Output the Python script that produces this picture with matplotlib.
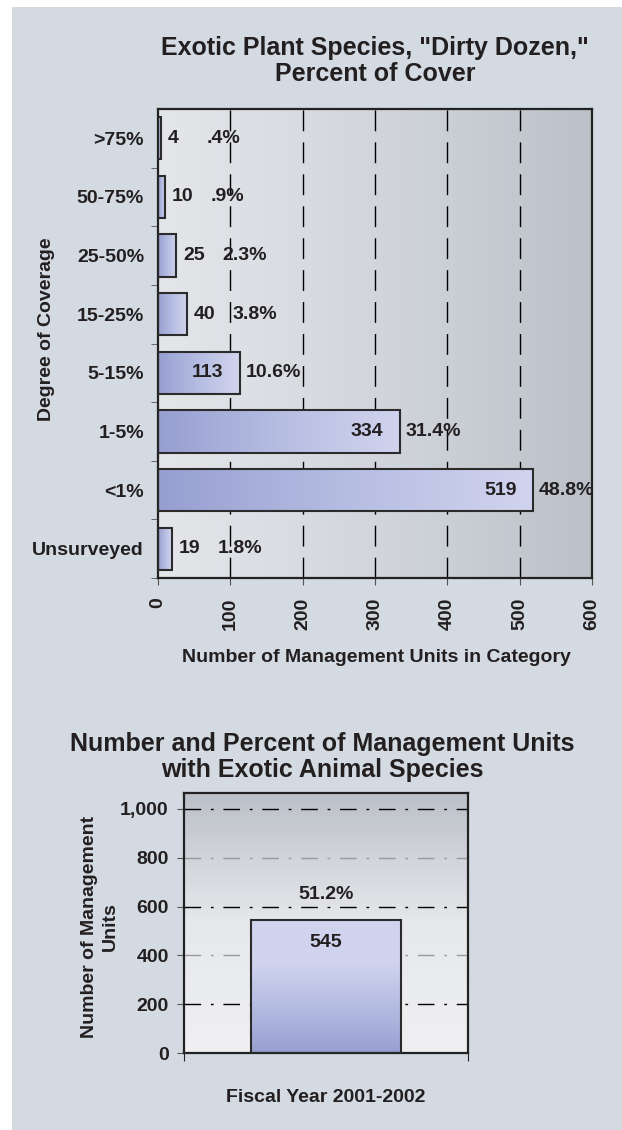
import numpy as np
import matplotlib.pyplot as plt
from matplotlib.colors import LinearSegmentedColormap
from matplotlib.patches import Rectangle

plt.rcParams['font.family'] = ['Liberation Sans', 'DejaVu Sans']
plt.rcParams['font.weight'] = 'bold'

# ---------------- data ----------------
coverage = ['>75%', '50-75%', '25-50%', '15-25%', '5-15%', '1-5%', '<1%', 'Unsurveyed']
units = [4, 10, 25, 40, 113, 334, 519, 19]
percents = ['.4%', '.9%', '2.3%', '3.8%', '10.6%', '31.4%', '48.8%', '1.8%']

animal_year = ['Fiscal Year 2001-2002']
animal_units = [545]
animal_pct = ['51.2%']

# ---------------- colours ----------------
panel_col = '#d3dae1'
txt_col = '#231f20'
bg_h = LinearSegmentedColormap.from_list('bgh', ['#e4e6e9', '#d2d6dc', '#bcc1c9'])
bg_v = LinearSegmentedColormap.from_list('bgv', ['#f0f0f2', '#e6e8eb', '#bcc0c8'])
bar_cm = LinearSegmentedColormap.from_list('bar', ['#979fd1', '#b6bde2', '#d1d4ee'])
bar_cm_v = LinearSegmentedColormap.from_list('barv', ['#979fd1', '#b4bbe1', '#cfd3ee', '#d1d4ee'])
ramp = np.linspace(0, 1, 256)

fig = plt.figure(figsize=(6.22, 11.3), dpi=100, facecolor='white')
fig.add_artist(Rectangle((12 / 622, 0), 1, (1130 - 7) / 1130, transform=fig.transFigure,
                         facecolor=panel_col, edgecolor='none', zorder=-10))

# ================= top chart =================
ax1 = fig.add_axes([158 / 622, 552 / 1130, 434 / 622, 469 / 1130])
ax1.imshow(ramp[None, :], extent=[0, 1, 0, 1], transform=ax1.transAxes,
           cmap=bg_h, aspect='auto', zorder=0)

y = np.arange(len(coverage))
bars = ax1.barh(y, units, height=0.72, facecolor='none', edgecolor='#2b2b2b',
                linewidth=1.5, zorder=3)
for b in bars:
    x0, y0, w, h = b.get_x(), b.get_y(), b.get_width(), b.get_height()
    im = ax1.imshow(ramp[None, :], extent=[x0, x0 + w, y0, y0 + h], cmap=bar_cm,
                    aspect='auto', zorder=2)
    im.set_clip_path(b)

for xv in [100, 200, 300, 400, 500]:
    ax1.axvline(xv, color='black', lw=1.0, linestyle=(0, (15, 8)), zorder=1)

for i, (v, p) in enumerate(zip(units, percents)):
    if v >= 100:
        ax1.annotate(str(v), (v, i), xytext=(-12, 0), textcoords='offset points',
                     ha='right', va='center', fontsize=14, color=txt_col, zorder=5)
        ax1.annotate(p, (v, i), xytext=(4, 0), textcoords='offset points',
                     ha='left', va='center', fontsize=14, color=txt_col, zorder=5)
    else:
        ax1.annotate(str(v), (v, i), xytext=(5, 0), textcoords='offset points',
                     ha='left', va='center', fontsize=14, color=txt_col, zorder=5)
        ax1.annotate(p, (v, i), xytext=(33, 0), textcoords='offset points',
                     ha='left', va='center', fontsize=14, color=txt_col, zorder=5)

ax1.set_xlim(0, 600)
ax1.set_ylim(len(coverage) - 0.5, -0.5)
ax1.set_xticks(np.arange(0, 601, 100))
ax1.set_xticklabels([str(t) for t in range(0, 601, 100)], rotation=90,
                    fontsize=14, color=txt_col)
ax1.set_yticks(y)
ax1.set_yticklabels(coverage, fontsize=14, color=txt_col)
ax1.set_yticks(np.arange(0.5, len(coverage), 1), minor=True)
ax1.tick_params(axis='y', which='major', length=0, pad=10)
ax1.tick_params(axis='y', which='minor', length=5, color='#555555')
ax1.tick_params(axis='x', length=5, pad=9, color='#555555')
for s in ax1.spines.values():
    s.set_linewidth(1.6)
    s.set_color('#222222')

fig.text(376 / 622, 1 - 658 / 1130, 'Number of Management Units in Category',
         ha='center', va='center', fontsize=14, color=txt_col)
fig.text(47 / 622, 1 - 329 / 1130, 'Degree of Coverage', rotation=90,
         ha='center', va='center', fontsize=14, color=txt_col)
fig.text(375 / 622, 1 - 61 / 1130, 'Exotic Plant Species, "Dirty Dozen,"\nPercent of Cover',
         ha='center', va='center', fontsize=18, color=txt_col, linespacing=1.1)

# ================= bottom chart =================
ax2 = fig.add_axes([184 / 622, 77 / 1130, 284 / 622, 260 / 1130])
ax2.imshow(ramp[:, None], extent=[0, 1, 0, 1], transform=ax2.transAxes, origin='lower',
           cmap=bg_v, aspect='auto', zorder=0)

for yv, gc in zip([200, 400, 600, 800, 1000], ['black', '#9a9a9a', 'black', '#9a9a9a', 'black']):
    ax2.axhline(yv, color=gc, lw=1.0, linestyle=(0, (12, 7, 2, 7)), zorder=1)

xb = np.arange(len(animal_units))
bars2 = ax2.bar(xb, animal_units, width=1.05, facecolor='none', edgecolor='#2b2b2b',
                linewidth=1.5, zorder=3)
for b in bars2:
    x0, y0, w, h = b.get_x(), b.get_y(), b.get_width(), b.get_height()
    im = ax2.imshow(ramp[:, None], extent=[x0, x0 + w, y0, y0 + h], origin='lower',
                    cmap=bar_cm_v, aspect='auto', zorder=2)
    im.set_clip_path(b)

for i, (v, p) in enumerate(zip(animal_units, animal_pct)):
    ax2.annotate(str(v), (i, v), xytext=(0, -10), textcoords='offset points',
                 ha='center', va='top', fontsize=14, color=txt_col, zorder=5)
    ax2.annotate(p, (i, v), xytext=(0, 12), textcoords='offset points',
                 ha='center', va='bottom', fontsize=14, color=txt_col, zorder=5)

ax2.set_xlim(-1.0, 1.0)
ax2.set_ylim(0, 1065)
ax2.set_yticks([0, 200, 400, 600, 800, 1000])
ax2.set_yticklabels(['0', '200', '400', '600', '800', '1,000'], fontsize=14, color=txt_col)
ax2.set_xticks([-1.0, 1.0])
ax2.set_xticklabels(['', ''])
ax2.tick_params(axis='y', length=5, pad=6, color='#555555')
ax2.tick_params(axis='x', length=6, color='#222222')
for s in ax2.spines.values():
    s.set_linewidth(1.6)
    s.set_color('#222222')

fig.text(326 / 622, 1 - 1097 / 1130, animal_year[0], ha='center', va='center',
         fontsize=14, color=txt_col)
fig.text(100 / 622, 1 - 927 / 1130, 'Number of Management\nUnits', rotation=90,
         ha='center', va='center', fontsize=14, color=txt_col, linespacing=1.25)
fig.text(322 / 622, 1 - 757 / 1130,
         'Number and Percent of Management Units\nwith Exotic Animal Species',
         ha='center', va='center', fontsize=18, color=txt_col, linespacing=1.1)

fig.savefig('out.png', dpi=100, facecolor='white')
